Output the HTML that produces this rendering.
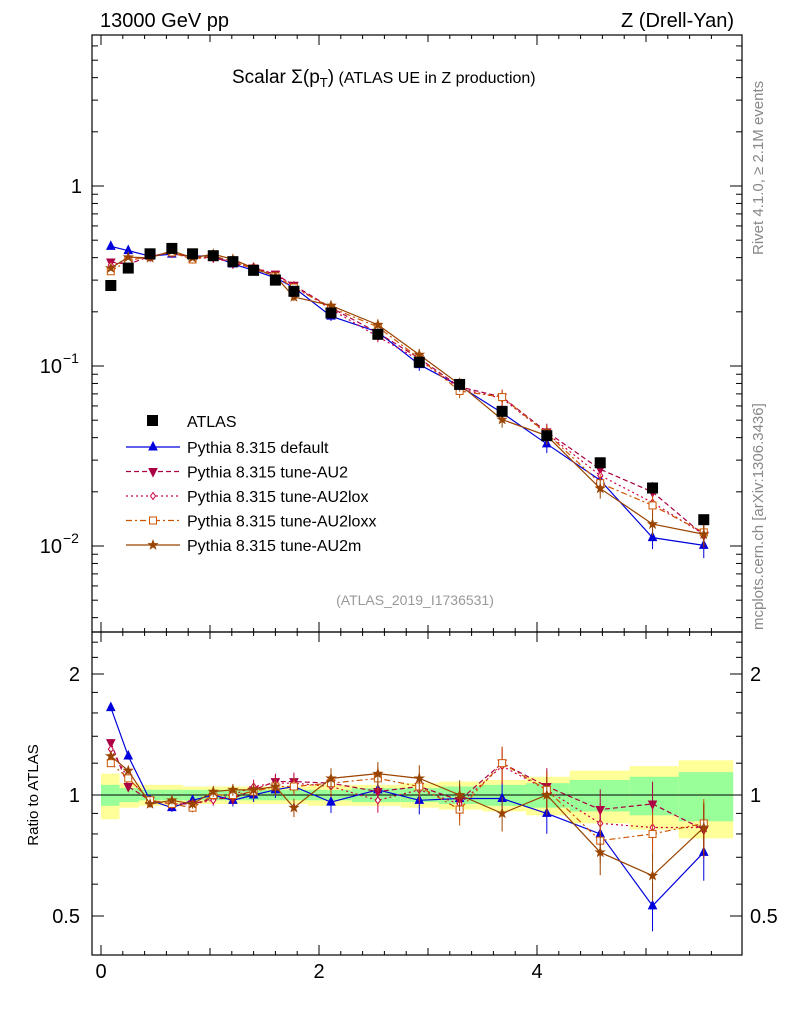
<!DOCTYPE html>
<html><head><meta charset="utf-8"><style>
body{margin:0;background:#fff;font-family:"Liberation Sans",sans-serif}
svg text{font-family:"Liberation Sans",sans-serif}
</style></head><body>
<svg id="c" width="786" height="1024" xmlns="http://www.w3.org/2000/svg"></svg>
<script>
const xs=[0.09,0.25,0.45,0.65,0.84,1.03,1.21,1.40,1.60,1.77,2.11,2.54,2.92,3.29,3.68,4.09,4.58,5.06,5.53];
const edges=[0,0.17,0.35,0.55,0.75,0.93,1.12,1.3,1.5,1.7,1.9,2.3,2.75,3.1,3.5,3.9,4.3,4.85,5.3,5.8];
const atlas=[0.28,0.35,0.42,0.45,0.42,0.41,0.38,0.34,0.30,0.26,0.197,0.15,0.105,0.079,0.056,0.041,0.029,0.021,0.014];
const statErr=[0.06,0.04,0.03,0.03,0.03,0.03,0.03,0.03,0.03,0.03,0.03,0.04,0.04,0.05,0.06,0.07,0.09,0.11,0.14];
const totErr=[0.13,0.07,0.06,0.06,0.05,0.05,0.05,0.05,0.05,0.05,0.06,0.06,0.07,0.08,0.09,0.11,0.15,0.18,0.22];
const rDefault=[1.65,1.25,0.97,0.93,0.97,1.0,0.97,1.0,1.03,1.05,0.96,1.03,0.97,0.98,0.98,0.9,0.8,0.53,0.72];
const rAU2=[1.35,1.05,0.97,0.95,0.95,0.98,0.98,1.03,1.08,1.08,1.07,1.02,1.05,0.97,1.2,1.05,0.92,0.95,0.82];
const rLox=[1.3,1.1,0.97,0.95,0.95,0.97,1.0,1.05,1.07,1.07,1.05,0.97,1.03,0.95,1.18,1.03,0.85,0.83,0.83];
const rLoxx=[1.2,1.1,0.97,0.95,0.93,1.0,1.0,1.02,1.05,1.05,1.07,1.1,1.05,0.92,1.2,1.03,0.77,0.8,0.85];
const rAU2m=[1.25,1.15,0.95,0.97,0.95,1.02,1.03,1.03,1.05,0.93,1.1,1.13,1.1,1.0,0.9,1.0,0.72,0.63,0.83];
const xTicks=[0,2,4];
const NS="http://www.w3.org/2000/svg";
const svg=document.getElementById('c');
function el(t,a,p){const e=document.createElementNS(NS,t);for(const k in a)e.setAttribute(k,a[k]);(p||svg).appendChild(e);return e;}
const L=92,R=742,T1=35,B1=632,T2=632,B2=955;
const X=v=>101+v*109;
const Y=v=>186-Math.log10(v)*180;
const YR=v=>795-Math.log2(v)*121;
for(let i=0;i<xs.length;i++){
 const x0=X(edges[i]),x1=X(edges[i+1]);
 let r=el('rect',{x:x0,y:YR(1+totErr[i]),width:x1-x0,height:YR(1-totErr[i])-YR(1+totErr[i]),fill:'#ffff99'});
 
 r=el('rect',{x:x0,y:YR(1+statErr[i]),width:x1-x0,height:YR(1-statErr[i])-YR(1+statErr[i]),fill:'#99ff99'});
 
}
el('line',{x1:L,x2:R,y1:YR(1),y2:YR(1),stroke:'#000'});
for(const [t,b,n] of [[T1,B1,'main-frame'],[T2,B2,'ratio-frame']]){const f=el('rect',{x:L,y:t,width:R-L,height:b-t,fill:'none',stroke:'#000','stroke-width':1.2});}
for(let v=0;v<=5.8;v+=0.2){const m=Math.abs(v-Math.round(v/2)*2)<1e-6?10:(Math.abs(v-Math.round(v))<1e-6?7:4);const x=X(v);
 for(const [t,b] of [[T1,B1],[T2,B2]]){el('line',{x1:x,x2:x,y1:b,y2:b-m,stroke:'#000'});el('line',{x1:x,x2:x,y1:t,y2:t+m,stroke:'#000'});}}
xTicks.forEach(v=>{const t=el('text',{x:X(v),y:978,'font-size':20,'text-anchor':'middle'});t.textContent=v;});
for(let d=-3;d<=0;d++)for(let k=1;k<10;k++){const v=k*Math.pow(10,d);const y=Y(v);if(y<T1||y>B1)continue;const m=k==1?12:6;
 el('line',{x1:L,x2:L+m,y1:y,y2:y,stroke:'#000'});el('line',{x1:R,x2:R-m,y1:y,y2:y,stroke:'#000'});}
const ylab=[[1,'1'],[0.1,'10'],[0.01,'10']];
ylab.forEach(([v,s],i)=>{const t=el('text',{x:i?62:82,y:Y(v)+7,'font-size':20,'text-anchor':'end'});t.textContent=s;
 if(i>0){const e=el('text',{x:63,y:Y(v)-3,'font-size':14,'text-anchor':'start'});e.textContent=i==1?'−1':'−2';}});
[0.5,0.6,0.7,0.8,0.9,1,1.2,1.4,1.6,1.8,2,2.2,2.4].forEach(v=>{const y=YR(v);const m=(v==0.5||v==1||v==2)?12:6;
 el('line',{x1:L,x2:L+m,y1:y,y2:y,stroke:'#000'});el('line',{x1:R,x2:R-m,y1:y,y2:y,stroke:'#000'});});
[[2,'2'],[1,'1'],[0.5,'0.5']].forEach(([v,s])=>{let t=el('text',{x:80,y:YR(v)+7,'font-size':20,'text-anchor':'end'});t.textContent=s;
 t=el('text',{x:750,y:YR(v)+7,'font-size':20});t.textContent=s;});
const series=[
 {n:'default',r:rDefault,c:'#0000dd',d:'',m:'tri',f:true,lab:'Pythia 8.315 default'},
 {n:'au2',r:rAU2,c:'#aa0044',d:'5,3',m:'tridown',f:true,lab:'Pythia 8.315 tune-AU2'},
 {n:'au2lox',r:rLox,c:'#cc0044',d:'2,3',m:'diamond',f:false,lab:'Pythia 8.315 tune-AU2lox'},
 {n:'au2loxx',r:rLoxx,c:'#cc5500',d:'6,3,2,3',m:'square',f:false,lab:'Pythia 8.315 tune-AU2loxx'},
 {n:'au2m',r:rAU2m,c:'#994400',d:'',m:'star',f:true,lab:'Pythia 8.315 tune-AU2m'}];
function marker(t,x,y,c,f,g){const fill=f?c:'#fff';
 if(t=='tri')return el('polygon',{points:`${x},${y-5} ${x-4},${y+3} ${x+4},${y+3}`,fill,stroke:c},g);
 if(t=='tridown')return el('polygon',{points:`${x},${y+5} ${x-4},${y-3} ${x+4},${y-3}`,fill,stroke:c},g);
 if(t=='diamond')return el('polygon',{points:`${x},${y-3.5} ${x-2.5},${y} ${x},${y+3.5} ${x+2.5},${y}`,fill,stroke:c},g);
 if(t=='square')return el('rect',{x:x-3.5,y:y-3.5,width:7,height:7,fill,stroke:c},g);
 let p=[];for(let i=0;i<10;i++){const a=-Math.PI/2+i*Math.PI/5,rr=i%2?1.8:4.5;p.push((x+rr*Math.cos(a)).toFixed(1)+','+(y+rr*Math.sin(a)).toFixed(1));}
 return el('polygon',{points:p.join(' '),fill:c,stroke:c},g);}
series.forEach(s=>{
 const g=el('g',{});
 const pm=xs.map((x,i)=>X(x)+','+Y(atlas[i]*s.r[i])).join(' ');
 el('polyline',{points:pm,fill:'none',stroke:s.c,'stroke-width':1.2,'stroke-dasharray':s.d},g);
 const pr=xs.map((x,i)=>X(x)+','+YR(s.r[i])).join(' ');
 el('polyline',{points:pr,fill:'none',stroke:s.c,'stroke-width':1.2,'stroke-dasharray':s.d},g);
 xs.forEach((x,i)=>{const e=0.02+0.13*(i/18)**2;const v=atlas[i]*s.r[i];
  el('line',{x1:X(x),x2:X(x),y1:Y(v*(1+e)),y2:Y(v*(1-e)),stroke:s.c},g);
  el('line',{x1:X(x),x2:X(x),y1:YR(s.r[i]*(1+e)),y2:YR(s.r[i]*(1-e)),stroke:s.c},g);
  const mm=marker(s.m,X(x),Y(v),s.c,s.f,g);
  marker(s.m,X(x),YR(s.r[i]),s.c,s.f,g);});
});
xs.forEach((x,i)=>{const r=el('rect',{x:X(x)-5.5,y:Y(atlas[i])-5.5,width:11,height:11,fill:'#000'});});
const lg=el('g',{});
el('rect',{x:147,y:415,width:11,height:11,fill:'#000'},lg);
let t=el('text',{x:187,y:427,'font-size':16},lg);t.textContent='ATLAS';
series.forEach((s,i)=>{const y=447+i*24.5;
 el('line',{x1:126,x2:180,y1:y,y2:y,stroke:s.c,'stroke-width':1.2,'stroke-dasharray':s.d},lg);
 marker(s.m,153,y,s.c,s.f,lg);
 const tt=el('text',{x:187,y:y+6,'font-size':16},lg);tt.textContent=s.lab;});
function txt(x,y,s,sz,o,n){const e=el('text',Object.assign({x,y,'font-size':sz},o||{}));e.textContent=s;return e;}
txt(100,27,'13000 GeV pp',20,{},'energy-label');
txt(734,27,'Z (Drell-Yan)',20,{'text-anchor':'end'},'process-label');
const tl=txt(232,83,'Scalar Σ(p',19,{},'plot-title');
const ts=el('tspan',{'font-size':13,dy:4},tl);ts.textContent='T';const ts2=el('tspan',{dy:-4},tl);ts2.textContent=')';
const ts3=el('tspan',{'font-size':16},tl);ts3.textContent=' (ATLAS UE in Z production)';
txt(415,605,'(ATLAS_2019_I1736531)',14,{'text-anchor':'middle',fill:'#999'},'analysis-id');
txt(0,0,'Rivet 4.1.0, ≥ 2.1M events',15,{fill:'#888',transform:'translate(763,255) rotate(-90)'},'rivet-label');
txt(0,0,'mcplots.cern.ch [arXiv:1306.3436]',15,{fill:'#888',transform:'translate(763,630) rotate(-90)'},'mcplots-label');
txt(0,0,'Ratio to ATLAS',15,{'text-anchor':'middle',transform:'translate(38,795) rotate(-90)'},'ratio-axis-title');
</script>
</body></html>
